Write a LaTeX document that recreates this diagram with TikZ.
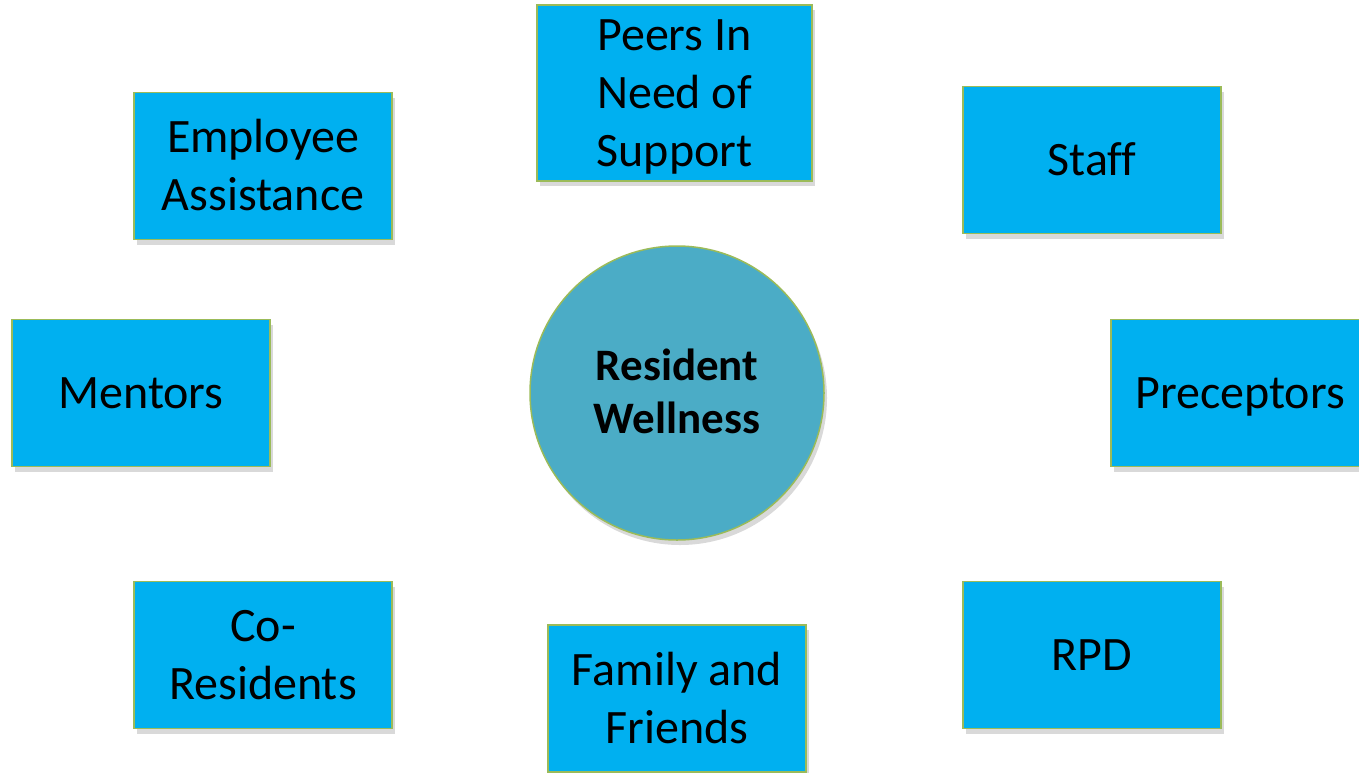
\documentclass[tikz,border=0pt]{standalone}
\usepackage{fontspec}
\setmainfont{Carlito}[Ligatures={TeX,NoCommon}, RawFeature={-liga}]
\usetikzlibrary{positioning, shadows}

\definecolor{boxblue}{HTML}{00B0F0}
\definecolor{hubteal}{HTML}{4BACC6}
\definecolor{rimgreen}{HTML}{9BBB59}

% invisible rules that give first and last lines a full line height
\newcommand\linehi{\rule{0pt}{0.767\baselineskip}}
\newcommand\linelo{\rule[-0.233\baselineskip]{0pt}{0.233\baselineskip}}

\begin{document}
\begin{tikzpicture}[x=1pt, y=-1pt,
        support/.style={rectangle, draw=rimgreen, line width=1.5pt, fill=boxblue,
            minimum width=258pt, minimum height=147pt, inner sep=0pt, align=center,
            font=\fontsize{48}{58}\selectfont,
            drop shadow={opacity=0.3, shadow xshift=3pt, shadow yshift=-5pt}},
        hub/.style={circle, draw=rimgreen, line width=1.5pt, fill=hubteal,
            minimum size=294pt, inner sep=0pt, align=center,
            font=\fontsize{45}{53}\selectfont\bfseries,
            drop shadow={opacity=0.3, shadow xshift=3pt, shadow yshift=-5pt}}]
        \useasboundingbox (0,0) rectangle (1359,772);

        \node[hub] (wellness) at (677,393) {\linehi Resident\\Wellness\linelo};

        \node[support] (eap) at (263,166) {\linehi Employee\\Assistance\linelo};
        \node[support, minimum width=275pt, minimum height=176pt] (peers) at (674.5,93) {\linehi Peers In\\Need of\\Support\linelo};
        \node[support] (staff) at (1092,160) {\linehi Staff\linelo};
        \node[support] (mentors) at (141,393) {\linehi Mentors\linelo};
        \node[support] (preceptors) at (1240,393) {\linehi Preceptors\linelo};
        \node[support] (coresidents) at (263,655) {\linehi Co-\\Residents\linelo};
        \node[support] (family) at (677,698.5) {\linehi Family and\\Friends\linelo};
        \node[support] (rpd) at (1092,655) {\linehi RPD\linelo};
    \end{tikzpicture}
\end{document}
